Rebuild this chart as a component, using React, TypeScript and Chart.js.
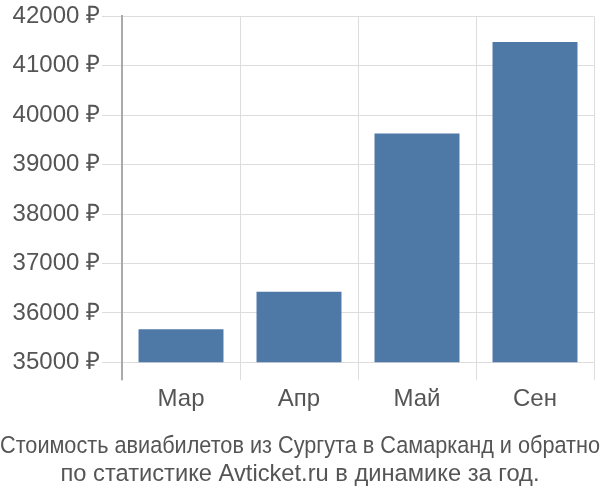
import { useEffect, useRef } from 'react';
import Chart from 'chart.js/auto';

const months = ['Мар', 'Апр', 'Май', 'Сен'];
const prices = [35670, 36430, 39630, 41480];
const titleLines = [
  'Стоимость авиабилетов из Сургута в Самарканд и обратно',
  'по статистике Avticket.ru в динамике за год.',
];

const textColor = '#555555';
const barColor = '#4e79a7';
const gridColor = '#dddddd';
const axisColor = '#aaaaaa';

const PriceChart = () => {
  const chartRef = useRef<HTMLCanvasElement>(null);
  const chartInstance = useRef<Chart | null>(null);

  useEffect(() => {
    if (chartRef.current) {
      if (chartInstance.current) {
        chartInstance.current.destroy();
      }

      chartInstance.current = new Chart(chartRef.current, {
        type: 'bar',
        data: {
          labels: months,
          datasets: [
            {
              data: prices,
              backgroundColor: barColor,
              borderWidth: 0,
              barPercentage: 0.72,
              categoryPercentage: 1,
            },
          ],
        },
        options: {
          animation: false,
          responsive: true,
          maintainAspectRatio: false,
          layout: { padding: { top: -2, right: 0, left: 0, bottom: 3 } },
          plugins: {
            legend: { display: false },
            tooltip: { enabled: false },
            title: {
              display: true,
              position: 'bottom',
              text: titleLines,
              color: textColor,
              font: { family: 'Liberation Sans', size: 23.7, weight: 'normal' },
              lineHeight: 1.02,
              padding: { top: 13, bottom: 8 },
            },
          },
          scales: {
            x: {
              grid: {
                color: (ctx) => (ctx.index === 0 ? axisColor : gridColor),
                lineWidth: (ctx) => (ctx.index === 0 ? 2 : 1),
                tickLength: 18,
                offset: true,
              },
              border: { color: gridColor },
              ticks: {
                color: textColor,
                font: { family: 'Liberation Sans', size: 24 },
                padding: 5,
              },
            },
            y: {
              min: 35000,
              max: 42000,
              grid: { color: gridColor, lineWidth: 1, tickLength: 20 },
              border: { color: axisColor, width: 2 },
              ticks: {
                stepSize: 1000,
                color: textColor,
                font: { family: 'Liberation Sans', size: 24 },
                padding: 2,
                callback: (v) => `${v} ₽`,
              },
              afterFit: (scale) => {
                scale.width = 122;
              },
            },
            // empty right axis, only keeps a small gap at the right edge
            yRight: {
              position: 'right',
              grid: { display: false },
              border: { display: false },
              ticks: { display: false },
              afterFit: (scale) => {
                scale.width = 6;
              },
            },
          },
        },
      });
    }

    return () => {
      if (chartInstance.current) {
        chartInstance.current.destroy();
      }
    };
  }, []);

  return <canvas ref={chartRef} />;
};

export default function App() {
  return (
    <div style={{ position: 'fixed', left: 0, top: 0, width: 600, height: 500, background: '#fff' }}>
      <PriceChart />
    </div>
  );
}
